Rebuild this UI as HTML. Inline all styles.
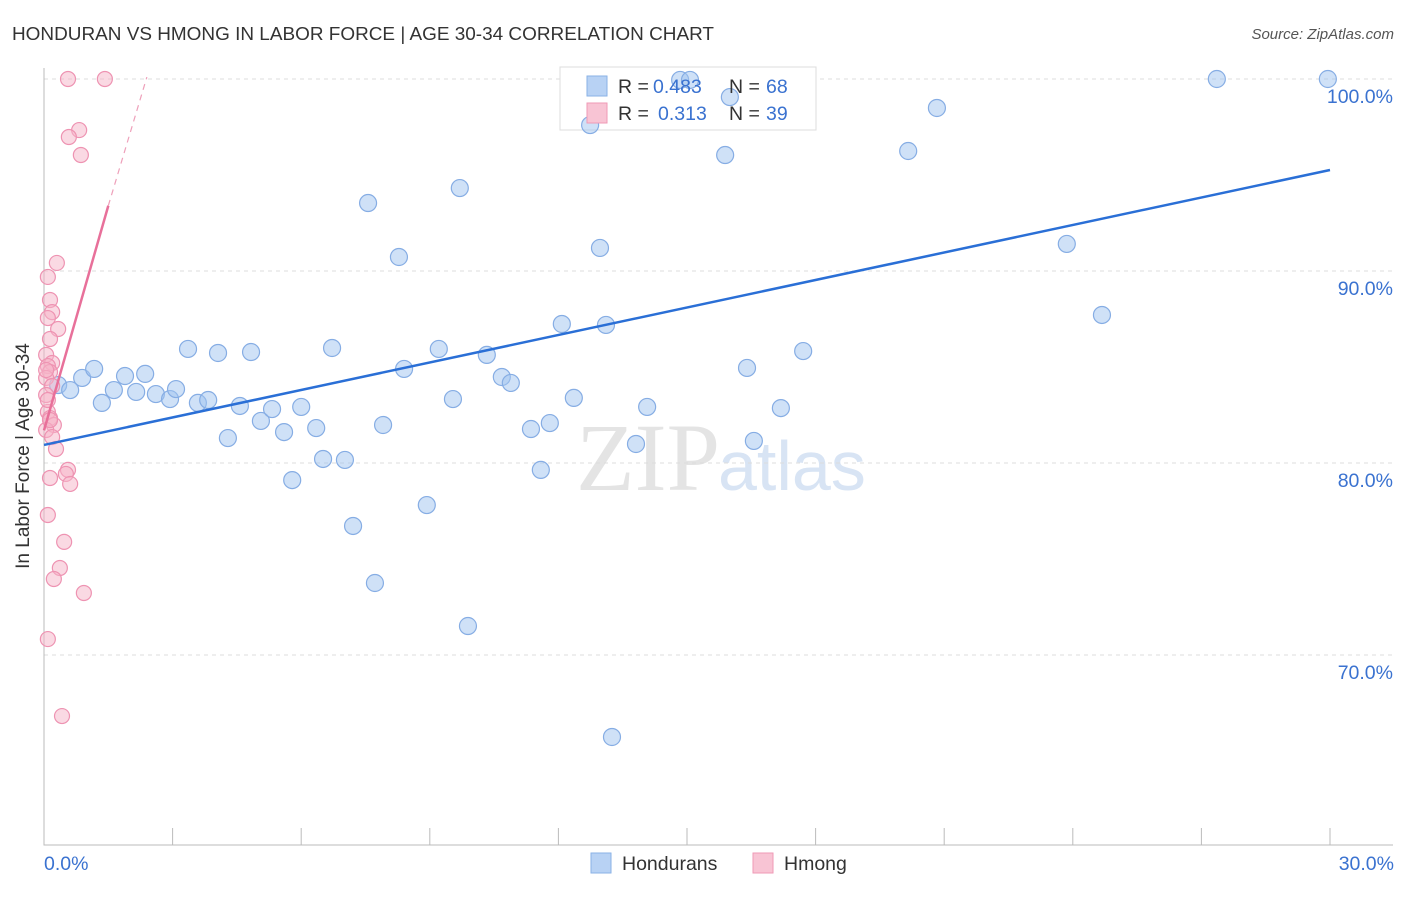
<!DOCTYPE html>
<html><head><meta charset="utf-8"><style>
body{margin:0;background:#fff;font-family:"Liberation Sans",sans-serif}
</style></head><body>
<svg width="1406" height="892" xmlns="http://www.w3.org/2000/svg" id="svg" style="font-family:'Liberation Sans',sans-serif">
<text x="12" y="40" font-size="18.5" fill="#333" textLength="702" lengthAdjust="spacingAndGlyphs">HONDURAN VS HMONG IN LABOR FORCE | AGE 30-34 CORRELATION CHART</text>
<text x="1394" y="39" font-size="15" fill="#555" font-style="italic" text-anchor="end">Source: ZipAtlas.com</text>
<text x="720" y="490" font-size="96" fill="#e4e4e4" text-anchor="end" font-family="Liberation Serif">ZIP</text>
<text x="718" y="490" font-size="70" fill="#d8e4f4">atlas</text>
<g id="grid"></g>
<rect x="560" y="67" width="256" height="63" fill="#fff" stroke="#ddd"/>
<g id="pts"></g><g id="lines"></g>
<text x="29" y="456" font-size="19" fill="#333" text-anchor="middle" transform="rotate(-90 29 456)">In Labor Force | Age 30-34</text>
<text x="44" y="870" font-size="19.5" fill="#3a72d0">0.0%</text>
<text x="1394" y="870" font-size="19.5" fill="#3a72d0" text-anchor="end">30.0%</text>
<g>
<rect x="587" y="76" width="20" height="20" fill="#b8d2f4" stroke="#8ab2e6"/>
<rect x="587" y="103" width="20" height="20" fill="#f8c4d4" stroke="#ef9ab6"/>
<text x="618" y="93" font-size="19.5" fill="#333">R =</text>
<text x="653" y="93" font-size="19.5" fill="#3a72d0">0.483</text>
<text x="729" y="93" font-size="19.5" fill="#333">N =</text>
<text x="766" y="93" font-size="19.5" fill="#3a72d0">68</text>
<text x="618" y="120" font-size="19.5" fill="#333">R =</text>
<text x="658" y="120" font-size="19.5" fill="#3a72d0">0.313</text>
<text x="729" y="120" font-size="19.5" fill="#333">N =</text>
<text x="766" y="120" font-size="19.5" fill="#3a72d0">39</text>
</g>
<g>
<rect x="591" y="853" width="20" height="20" fill="#b8d2f4" stroke="#8ab2e6"/>
<text x="622" y="870" font-size="19.5" fill="#333">Hondurans</text>
<rect x="753" y="853" width="20" height="20" fill="#f8c4d4" stroke="#ef9ab6"/>
<text x="784" y="870" font-size="19.5" fill="#333">Hmong</text>
</g>
</svg>
<script>
const yTicks=[100,90,80,70];
const yTickLabels=["100.0%","90.0%","80.0%","70.0%"];
const blueX=[0.33,0.61,0.89,1.17,1.35,1.63,1.89,2.15,2.36,2.61,2.94,3.08,3.36,3.59,3.83,4.06,4.29,4.57,4.83,5.06,5.32,5.60,5.79,6.00,6.35,6.51,6.72,7.02,7.21,7.56,7.72,7.91,8.28,8.40,8.93,9.21,9.54,9.70,9.89,10.33,10.68,10.89,11.36,11.59,11.80,12.08,12.36,12.74,12.97,13.11,13.25,13.81,14.07,14.84,15.07,15.89,16.00,16.40,16.56,17.19,17.71,20.16,20.83,23.86,24.68,27.36,29.95];
const blueY=[84.06,83.80,84.43,84.90,83.13,83.80,84.53,83.70,84.64,83.59,83.33,83.85,85.94,83.13,83.28,85.73,81.30,82.97,85.78,82.19,82.81,81.61,79.11,82.92,81.82,80.21,85.99,80.16,76.72,93.54,73.75,81.98,90.73,84.90,77.81,85.94,83.33,94.32,71.51,85.63,84.48,84.17,81.77,79.64,82.08,87.24,83.39,97.60,91.20,87.19,65.73,80.99,82.92,99.95,99.95,96.04,99.06,84.95,81.15,82.86,85.83,96.25,98.49,91.41,87.71,100,100];
const pinkX=[0.56,1.42,0.82,0.58,0.86,0.30,0.09,0.14,0.19,0.09,0.33,0.14,0.05,0.19,0.09,0.14,0.05,0.19,0.09,0.14,0.23,0.05,0.19,0.28,0.56,0.51,0.14,0.61,0.09,0.47,0.37,0.23,0.93,0.09,0.42,0.05,0.09,0.05,0.14];
const pinkY=[100,100,97.34,96.98,96.04,90.42,89.69,88.49,87.86,87.55,86.98,86.46,85.63,85.21,85.05,84.74,84.43,84.01,82.66,82.34,81.98,81.72,81.35,80.73,79.64,79.43,79.22,78.91,77.29,75.89,74.53,73.96,73.23,70.83,66.82,83.54,83.28,84.84,82.24];
const blueTrend=[0,80.94,30,95.26];
const pinkTrend=[0,81.7,1.5,93.4,2.4,100.1];
const xs=v=>44+v/30*1286, ys=v=>79+(100-v)*19.2;
const NS="http://www.w3.org/2000/svg";
function mk(t,a,p){const e=document.createElementNS(NS,t);for(const k in a)e.setAttribute(k,a[k]);p.appendChild(e);return e;}
const g=document.getElementById('grid');
yTicks.forEach((t,i)=>{
 const l=mk('line',{x1:44,x2:1393,y1:ys(t),y2:ys(t),stroke:'#ddd','stroke-dasharray':'4,4'},g);
 
 
 const tx=mk('text',{x:1393,y:ys(t)+24,'font-size':19.5,fill:'#3a72d0','text-anchor':'end'},g);
 tx.textContent=yTickLabels[i];
 
 
});
const ax=mk('path',{d:'M44 68V845H1393',fill:'none',stroke:'#bbb'},g);


for(let i=1;i<=10;i++){const t=mk('line',{x1:xs(i*3),x2:xs(i*3),y1:845,y2:828,stroke:'#bbb'},g);
 
 }
const p=document.getElementById('pts');
blueX.forEach((x,i)=>{const c=mk('circle',{cx:xs(x),cy:ys(blueY[i]),r:8.5,fill:'rgba(160,195,240,0.5)',stroke:'#86ade4','stroke-width':1.2},p);
 
 });
pinkX.forEach((x,i)=>{const c=mk('circle',{cx:xs(x),cy:ys(pinkY[i]),r:7.5,fill:'rgba(245,180,200,0.5)',stroke:'#ee93b2','stroke-width':1.2},p);
 
 });
const L=document.getElementById('lines');
const b=mk('line',{x1:xs(blueTrend[0]),y1:ys(blueTrend[1]),x2:xs(blueTrend[2]),y2:ys(blueTrend[3]),stroke:'#2a6fd6','stroke-width':2.5},L);


const pk=mk('line',{x1:xs(pinkTrend[0]),y1:ys(pinkTrend[1]),x2:xs(pinkTrend[2]),y2:ys(pinkTrend[3]),stroke:'#e8709a','stroke-width':2.5},L);


const pd=mk('line',{x1:xs(pinkTrend[2]),y1:ys(pinkTrend[3]),x2:xs(pinkTrend[4]),y2:ys(pinkTrend[5]),stroke:'#eea0ba','stroke-width':1.2,'stroke-dasharray':'6,5'},L);


</script>
</body></html>
